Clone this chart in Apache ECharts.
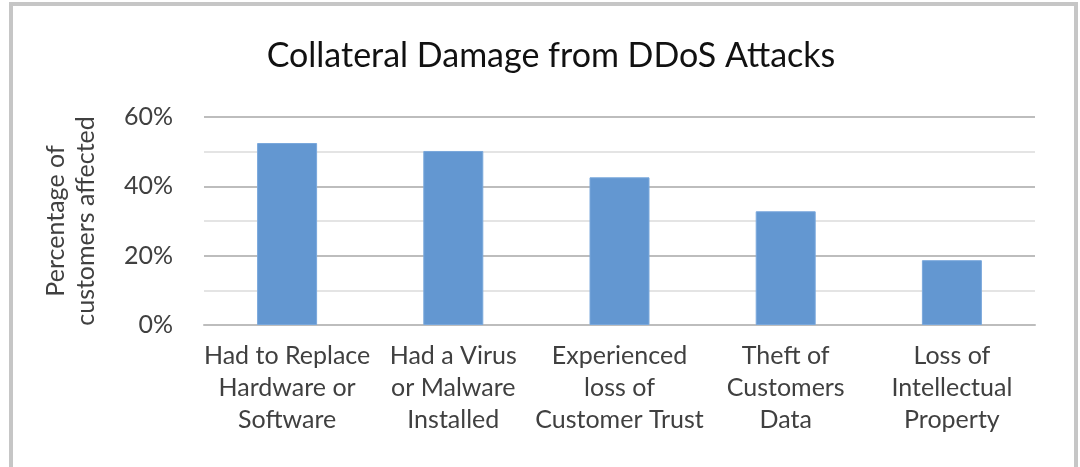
<!DOCTYPE html>
<html>
<head>
<meta charset="utf-8">
<script src="https://cdn.jsdelivr.net/npm/echarts@6/dist/echarts.min.js"></script>
<style>
  html, body { margin: 0; padding: 0; background: #fff; }
  #chart { width: 1080px; height: 467px; }
</style>
</head>
<body>
<div id="chart"></div>
<script>
const categories = [
  'Had to Replace\nHardware or\nSoftware',
  'Had a Virus\nor Malware\nInstalled',
  'Experienced\nloss of\nCustomer Trust',
  'Theft of\nCustomers\nData',
  'Loss of\nIntellectual\nProperty'
]
const affected = [52.5, 50.2, 42.6, 32.8, 18.7]
const yTicks = [0, 20, 40, 60]

const chart = echarts.init(document.getElementById('chart'))

chart.setOption({
  animation: false,
  textStyle: { fontFamily: 'Lato' },
  title: {
    text: 'Collateral Damage from DDoS Attacks',
    left: 546,
    textAlign: 'center',
    top: 34,
    textStyle: { fontFamily: 'Lato', fontSize: 34, fontWeight: 'normal', color: '#111' }
  },
  graphic: [{
    type: 'rect',
    shape: { x: 11, y: 4, width: 1065, height: 520 },
    style: { fill: 'none', stroke: '#c6c6c6', lineWidth: 4 },
    silent: true
  }],
  grid: { left: 204, right: 45, top: 117, bottom: 142 },
  xAxis: {
    type: 'category',
    data: categories,
    axisTick: { show: false },
    axisLine: { lineStyle: { color: '#bdbdbd', width: 2 } },
    axisLabel: {
      color: '#404040',
      fontSize: 25,
      lineHeight: 32,
      margin: 15,
      interval: 0
    }
  },
  yAxis: {
    type: 'value',
    min: yTicks[0],
    max: yTicks[yTicks.length - 1],
    interval: 20,
    name: 'Percentage of\ncustomers affected',
    nameLocation: 'middle',
    nameGap: 103,
    nameRotate: 90,
    nameTextStyle: { color: '#404040', fontSize: 25, lineHeight: 30 },
    axisLine: { show: false },
    axisTick: { show: false },
    axisLabel: { color: '#404040', fontSize: 25, margin: 31, formatter: v => v + '%' },
    splitLine: { lineStyle: { color: '#bdbdbd', width: 2 } },
    minorTick: { show: false, splitNumber: 2 },
    minorSplitLine: { show: true, lineStyle: { color: '#e4e4e4', width: 2 } }
  },
  series: [{
    type: 'bar',
    data: affected,
    barWidth: 60,
    itemStyle: { color: '#6397d1', borderColor: '#7aa8dc', borderWidth: 1 }
  }]
})
</script>
</body>
</html>
